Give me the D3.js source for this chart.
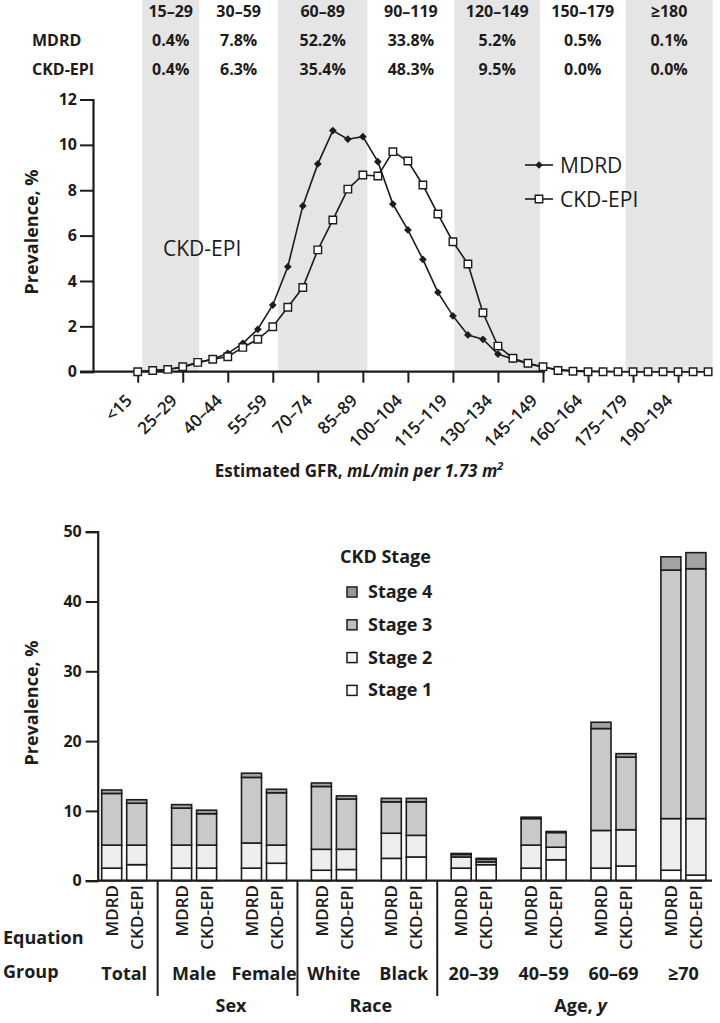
<!DOCTYPE html>
<html><head><meta charset="utf-8">
<script src="https://cdn.jsdelivr.net/npm/d3@7"></script>
<style>
body{margin:0;background:#fff}
svg{display:block}
text{font-family:"Open Sans",sans-serif;fill:#1c1c1c}
</style>
</head><body>
<svg id="c" width="720" height="1023"></svg>
<script>
// ---------- Top panel data ----------
const gfrBins = ["<15","15–19","20–24","25–29","30–34","35–39","40–44","45–49","50–54","55–59",
  "60–64","65–69","70–74","75–79","80–84","85–89","90–94","95–99","100–104","105–109",
  "110–114","115–119","120–124","125–129","130–134","135–139","140–144","145–149","150–154","155–159",
  "160–164","165–169","170–174","175–179","180–184","185–189","190–194","195–199","200–204"];
const mdrdPrev = [0.0,0.05,0.1,0.2,0.4,0.55,0.81,1.25,1.87,2.94,
  4.63,7.31,9.16,10.63,10.25,10.36,9.26,7.39,6.25,4.95,
  3.5,2.46,1.62,1.43,0.78,0.55,0.35,0.2,0.1,0.05,
  0.03,0.02,0.01,0,0,0,0,0,0];
const ckdEpiPrev = [0.0,0.05,0.1,0.22,0.41,0.55,0.66,1.07,1.43,1.98,
  2.84,3.71,5.37,6.69,8.05,8.67,8.63,9.7,9.29,8.23,
  6.95,5.73,4.75,2.6,1.13,0.59,0.37,0.22,0.05,0.02,
  0,0,0,0,0,0,0,0,0];
const topYTicks = [0,2,4,6,8,10,12];
const labelledBins = [0,3,6,9,12,15,18,21,24,27,30,33,36];
const headerRanges = ["15–29","30–59","60–89","90–119","120–149","150–179","≥180"];
const headerMDRD = ["0.4%","7.8%","52.2%","33.8%","5.2%","0.5%","0.1%"];
const headerCKDEPI = ["0.4%","6.3%","35.4%","48.3%","9.5%","0.0%","0.0%"];
const headerShaded = [true,false,true,false,true,false,true];
const rangeEdges = [0.3,4.1,9.35,15.3,21.1,26.8,32.5,38.3]; // in bin-index units

// ---------- Bottom panel data ----------
const groups = ["Total","Male","Female","White","Black","20–39","40–59","60–69","≥70"];
const equations = ["MDRD","CKD-EPI"];
const stages = ["Stage 1","Stage 2","Stage 3","Stage 4"];
const mdrdStage1 = [1.8,1.8,1.8,1.5,3.2,1.8,1.8,1.8,1.5];
const mdrdStage2 = [3.3,3.3,3.6,3.0,3.6,1.6,3.3,5.4,7.4];
const mdrdStage3 = [7.4,5.3,9.4,9.0,4.5,0.35,3.8,14.6,35.6];
const mdrdStage4 = [0.5,0.5,0.6,0.5,0.5,0.15,0.2,0.9,1.9];
const ckdStage1 = [2.3,1.8,2.5,1.6,3.4,2.3,3.0,2.1,0.8];
const ckdStage2 = [2.8,3.3,2.6,2.9,3.1,0.4,1.8,5.2,8.1];
const ckdStage3 = [6.0,4.5,7.5,7.2,4.8,0.35,2.1,10.4,35.8];
const ckdStage4 = [0.5,0.5,0.5,0.45,0.5,0.15,0.15,0.5,2.3];
const bottomYTicks = [0,10,20,30,40,50];
const groupSections = [{label:"Sex",from:1,to:2},{label:"Race",from:3,to:4},{label:"Age, y",from:5,to:8}];

const svg = d3.select("#c");
const ink = "#1c1c1c";

// ================= TOP PANEL =================
const xT = d3.scaleLinear().domain([0, gfrBins.length-1]).range([137.7, 708.1]);
const yT = d3.scaleLinear().domain([0,12]).range([371.7, 99.5]);
const topAxisX = 93;

const cols = headerRanges.map((r,i)=>({r, i, x0:xT(rangeEdges[i]), x1:xT(rangeEdges[i+1]), shaded:headerShaded[i]}));
svg.append("g").selectAll("rect").data(cols.filter(c=>c.shaded)).join("rect")
  .attr("x",c=>c.x0).attr("width",c=>c.x1-c.x0).attr("y",0).attr("height",yT(0))
  .attr("fill","#e5e5e5");

const hdr = svg.append("g").style("font-size","16px").style("font-weight","bold");
hdr.selectAll("text.h").data(cols).join("text").attr("class","h")
  .attr("x",c=>(c.x0+c.x1)/2).attr("y",17).attr("text-anchor","middle").text(c=>c.r);
hdr.selectAll("text.m").data(headerMDRD).join("text").attr("class","m")
  .attr("x",(d,i)=>(cols[i].x0+cols[i].x1)/2).attr("y",46).attr("text-anchor","middle").text(d=>d);
hdr.selectAll("text.c").data(headerCKDEPI).join("text").attr("class","c")
  .attr("x",(d,i)=>(cols[i].x0+cols[i].x1)/2).attr("y",75).attr("text-anchor","middle").text(d=>d);
hdr.append("text").attr("x",32).attr("y",46).text("MDRD");
hdr.append("text").attr("x",32).attr("y",75).text("CKD-EPI");

const yAxT = svg.append("g").attr("transform",`translate(${topAxisX},0)`)
  .call(d3.axisLeft(yT).tickValues(topYTicks).tickSize(13).tickPadding(3));
yAxT.select(".domain").attr("stroke",ink).attr("stroke-width",2.2);
yAxT.selectAll(".tick line").attr("stroke",ink).attr("stroke-width",2);
yAxT.selectAll(".tick text").style("font-size","16px").style("font-weight","bold").attr("fill",ink);

const xAxT = svg.append("g").attr("transform",`translate(0,${yT(0)})`)
  .call(d3.axisBottom(xT).tickValues(labelledBins).tickSize(11).tickFormat(i=>gfrBins[i]));
xAxT.select(".domain").remove();
xAxT.selectAll(".tick line").attr("stroke",ink).attr("stroke-width",2);
xAxT.selectAll(".tick text").attr("x",0).attr("y",0).attr("dy",0)
  .attr("transform","translate(-5,30) rotate(-45)").attr("text-anchor","end")
  .style("font-size","17px").style("font-weight","600").attr("fill",ink);
svg.append("line").attr("x1",80).attr("x2",545).attr("y1",yT(0)).attr("y2",yT(0))
  .attr("stroke",ink).attr("stroke-width",2.2);

const lineGen = d3.line().x((d,i)=>xT(i)).y(d=>yT(d));
svg.append("path").attr("d",lineGen(mdrdPrev)).attr("fill","none").attr("stroke",ink).attr("stroke-width",1.6);
svg.append("path").attr("d",lineGen(ckdEpiPrev)).attr("fill","none").attr("stroke",ink).attr("stroke-width",1.6);
const diamond = d3.symbol(d3.symbolSquare, 30);
svg.append("g").selectAll("path").data(mdrdPrev).join("path")
  .attr("d",diamond).attr("transform",(d,i)=>`translate(${xT(i)},${yT(d)}) rotate(45)`).attr("fill",ink);
const square = d3.symbol(d3.symbolSquare, 56);
svg.append("g").selectAll("path").data(ckdEpiPrev).join("path")
  .attr("d",square).attr("transform",(d,i)=>`translate(${xT(i)},${yT(d)})`)
  .attr("fill","#fff").attr("stroke",ink).attr("stroke-width",1.4);

const lgT = svg.append("g");
[["MDRD",165,"d"],["CKD-EPI",199,"s"]].forEach(([lab,yy,t])=>{
  lgT.append("line").attr("x1",525).attr("x2",553).attr("y1",yy).attr("y2",yy).attr("stroke",ink).attr("stroke-width",1.6);
  if(t==="d") lgT.append("path").attr("d",diamond).attr("transform",`translate(539,${yy}) rotate(45)`).attr("fill",ink);
  else lgT.append("path").attr("d",square).attr("transform",`translate(539,${yy})`).attr("fill","#fff").attr("stroke",ink).attr("stroke-width",1.4);
  lgT.append("text").attr("x",560).attr("y",yy+7.5).style("font-size","21px").style("font-weight","500").text(lab);
});
svg.append("text").attr("x",163).attr("y",256).style("font-size","21px").style("font-weight","500").text("CKD-EPI");

svg.append("text").attr("transform","translate(38,232) rotate(-90)").attr("text-anchor","middle")
  .style("font-size","18px").style("font-weight","bold").text("Prevalence, %");
const tt = svg.append("text").attr("x",359).attr("y",477).attr("text-anchor","middle")
  .style("font-size","17px").style("font-weight","bold");
tt.append("tspan").text("Estimated GFR, ");
tt.append("tspan").style("font-style","italic").text("mL/min per 1.73 m");
tt.append("tspan").style("font-style","italic").style("font-size","11px").attr("dy",-7).text("2");

// ================= BOTTOM PANEL =================
const x0 = d3.scaleBand().domain(groups).range([89.25, 718.35]).paddingInner(0.356).paddingOuter(0.178);
const x1 = d3.scaleBand().domain(equations).range([0, x0.bandwidth()]).paddingInner(0.2);
const yB = d3.scaleLinear().domain([0,50]).range([880.7, 531.7]);
const botAxisX = 97.7;

const rows = [];
groups.forEach((g,gi)=>{
  rows.push({group:g, eq:"MDRD", "Stage 1":mdrdStage1[gi],"Stage 2":mdrdStage2[gi],"Stage 3":mdrdStage3[gi],"Stage 4":mdrdStage4[gi]});
  rows.push({group:g, eq:"CKD-EPI", "Stage 1":ckdStage1[gi],"Stage 2":ckdStage2[gi],"Stage 3":ckdStage3[gi],"Stage 4":ckdStage4[gi]});
});
const stacked = d3.stack().keys(stages)(rows);
const stageFill = {"Stage 1":"#ffffff","Stage 2":"#eeeeee","Stage 3":"#c9c9c9","Stage 4":"#a3a3a3"};
const barG = svg.append("g");
stacked.forEach(layer=>{
  barG.append("g").selectAll("rect").data(layer).join("rect")
    .attr("x",d=>x0(d.data.group)+x1(d.data.eq))
    .attr("width",x1.bandwidth())
    .attr("y",d=>yB(d[1])).attr("height",d=>yB(d[0])-yB(d[1]))
    .attr("fill",stageFill[layer.key]).attr("stroke",ink).attr("stroke-width",1.6);
});

const yAxB = svg.append("g").attr("transform",`translate(${botAxisX},0)`)
  .call(d3.axisLeft(yB).tickValues(bottomYTicks).tickSize(12).tickPadding(4));
yAxB.select(".domain").attr("stroke",ink).attr("stroke-width",2.2);
yAxB.selectAll(".tick line").attr("stroke",ink).attr("stroke-width",2);
yAxB.selectAll(".tick text").style("font-size","16px").style("font-weight","bold").attr("fill",ink);
svg.append("line").attr("x1",botAxisX).attr("x2",712).attr("y1",yB(0)).attr("y2",yB(0))
  .attr("stroke",ink).attr("stroke-width",2.2);
svg.append("text").attr("transform","translate(38,703) rotate(-90)").attr("text-anchor","middle")
  .style("font-size","18px").style("font-weight","bold").text("Prevalence, %");

svg.append("g").selectAll("text").data(rows).join("text")
  .attr("transform",d=>`translate(${x0(d.group)+x1(d.eq)+x1.bandwidth()/2},885) rotate(-90)`)
  .attr("text-anchor","end").attr("dy","0.36em")
  .style("font-size","17px").style("font-weight","600").text(d=>d.eq);
svg.append("g").selectAll("text").data(groups).join("text")
  .attr("x",g=>x0(g)+x0.bandwidth()/2).attr("y",980).attr("text-anchor","middle")
  .style("font-size","18px").style("font-weight","bold").text(g=>g);
svg.append("text").attr("x",3).attr("y",944).style("font-size","18px").style("font-weight","bold").text("Equation");
svg.append("text").attr("x",3).attr("y",978).style("font-size","18px").style("font-weight","bold").text("Group");
[1,3,5].forEach(i=>{
  const xs = (x0(groups[i-1])+x0.bandwidth()+x0(groups[i]))/2 - 1.5;
  svg.append("line").attr("x1",xs).attr("x2",xs).attr("y1",yB(0)).attr("y2",996)
    .attr("stroke",ink).attr("stroke-width",2);
});
groupSections.forEach(s=>{
  const cx = (x0(groups[s.from]) + x0(groups[s.to]) + x0.bandwidth())/2;
  const t = svg.append("text").attr("x",cx+2).attr("y",1012).attr("text-anchor","middle")
    .style("font-size","18px").style("font-weight","bold");
  if (s.label === "Age, y") { t.append("tspan").text("Age, "); t.append("tspan").style("font-style","italic").text("y"); }
  else t.text(s.label);
});

const lgB = svg.append("g");
lgB.append("text").attr("x",340).attr("y",563).style("font-size","18px").style("font-weight","bold").text("CKD Stage");
const legStages = ["Stage 4","Stage 3","Stage 2","Stage 1"];
const legFill = {"Stage 4":"#999999","Stage 3":"#bdbdbd","Stage 2":"#f4f4f4","Stage 1":"#ffffff"};
legStages.forEach((s,i)=>{
  const yy = 587 + i*32.8;
  lgB.append("rect").attr("x",347).attr("y",yy).attr("width",10).attr("height",10)
    .attr("fill",legFill[s]).attr("stroke",ink).attr("stroke-width",1.5);
  lgB.append("text").attr("x",368).attr("y",yy+11).style("font-size","18px").style("font-weight","bold").text(s);
});
</script>
</body></html>
